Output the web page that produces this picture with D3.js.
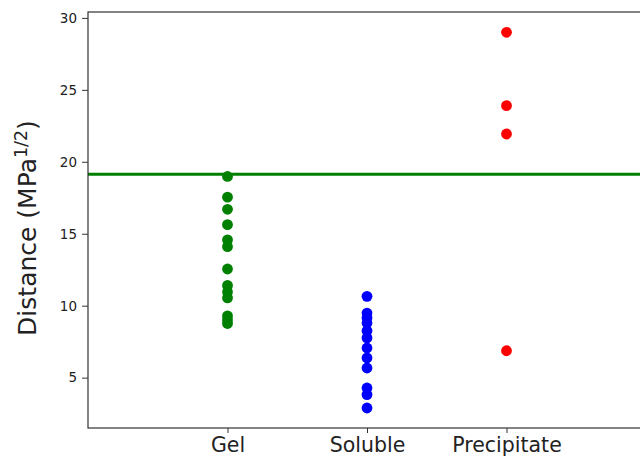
<!DOCTYPE html>
<html>
<head>
<meta charset="utf-8">
<script src="https://cdn.jsdelivr.net/npm/d3@7"></script>
<style>
  html, body { margin: 0; padding: 0; background: #fff; }
  svg { display: block; }
  text { font-family: "DejaVu Sans", sans-serif; fill: #222; }
</style>
</head>
<body>
<svg id="chart" width="640" height="459"></svg>
<script>
// Categories along the x axis
const categories = ["Gel", "Soluble", "Precipitate"];
const categoryColors = ["#008000", "#0000ff", "#ff0000"];

// Distance values (MPa^1/2) for each category
const gelValues = [18.98, 17.54, 16.70, 15.63, 14.57, 14.10, 12.55, 11.41, 10.95, 10.54, 9.29, 9.01, 8.76];
const solubleValues = [10.65, 9.49, 9.15, 8.80, 8.26, 7.76, 7.06, 6.37, 5.67, 4.28, 3.82, 2.89];
const precipitateValues = [29.0, 23.9, 21.93, 6.87];

// Threshold line
const thresholdValue = 19.13;

// Y tick values
const yTicks = [5, 10, 15, 20, 25, 30];

const seriesValues = [gelValues, solubleValues, precipitateValues];

const svg = d3.select("#chart");
const plotLeft = 88, plotRight = 646, plotTop = 12, plotBottom = 428;

const x = d3.scaleLinear().domain([0, 4]).range([plotLeft, plotRight]);
const y = d3.scaleLinear().domain([1.5, 30.41]).range([plotBottom, plotTop]);

// Threshold line
svg.append("line")
  .attr("x1", x(0)).attr("x2", x(4))
  .attr("y1", y(thresholdValue)).attr("y2", y(thresholdValue))
  .attr("stroke", "#008000").attr("stroke-width", 3);

// Points
const points = [];
seriesValues.forEach((vals, i) => vals.forEach(v => points.push({ c: i, v })));
svg.append("g").selectAll("circle")
  .data(points)
  .enter().append("circle")
  .attr("cx", d => x(d.c + 1))
  .attr("cy", d => y(d.v))
  .attr("r", 5.4)
  .attr("fill", d => categoryColors[d.c]);

// Axes
const yAxis = d3.axisLeft(y).tickValues(yTicks).tickSize(6).tickPadding(5).tickFormat(d3.format("d"));
const gy = svg.append("g").attr("transform", `translate(${plotLeft},0)`).call(yAxis);
gy.select(".domain").remove();
gy.selectAll(".tick line").attr("stroke", "#333");
gy.selectAll(".tick text").attr("font-size", 13.5).style("fill", "#222");

const xAxis = d3.axisBottom(x).tickValues([1, 2, 3]).tickSize(5).tickPadding(4)
  .tickFormat(d => categories[d - 1]);
const gx = svg.append("g").attr("transform", `translate(0,${plotBottom})`).call(xAxis);
gx.select(".domain").remove();
gx.selectAll(".tick line").attr("stroke", "#333");
gx.selectAll(".tick text").attr("font-size", 20.5).style("fill", "#222");

// Frame
svg.append("rect")
  .attr("x", plotLeft).attr("y", plotTop)
  .attr("width", plotRight - plotLeft).attr("height", plotBottom - plotTop)
  .attr("fill", "none").attr("stroke", "#333").attr("stroke-width", 1.2);

// Y axis title
const title = svg.append("text")
  .attr("transform", `translate(36,${(plotTop + plotBottom) / 2 + 8}) rotate(-90)`)
  .attr("text-anchor", "middle")
  .attr("font-size", 25);
title.append("tspan").text("Distance (MPa");
title.append("tspan").attr("dy", -9).attr("font-size", 17.5).text("1/2");
title.append("tspan").attr("dy", 9).text(")");
</script>
</body>
</html>
